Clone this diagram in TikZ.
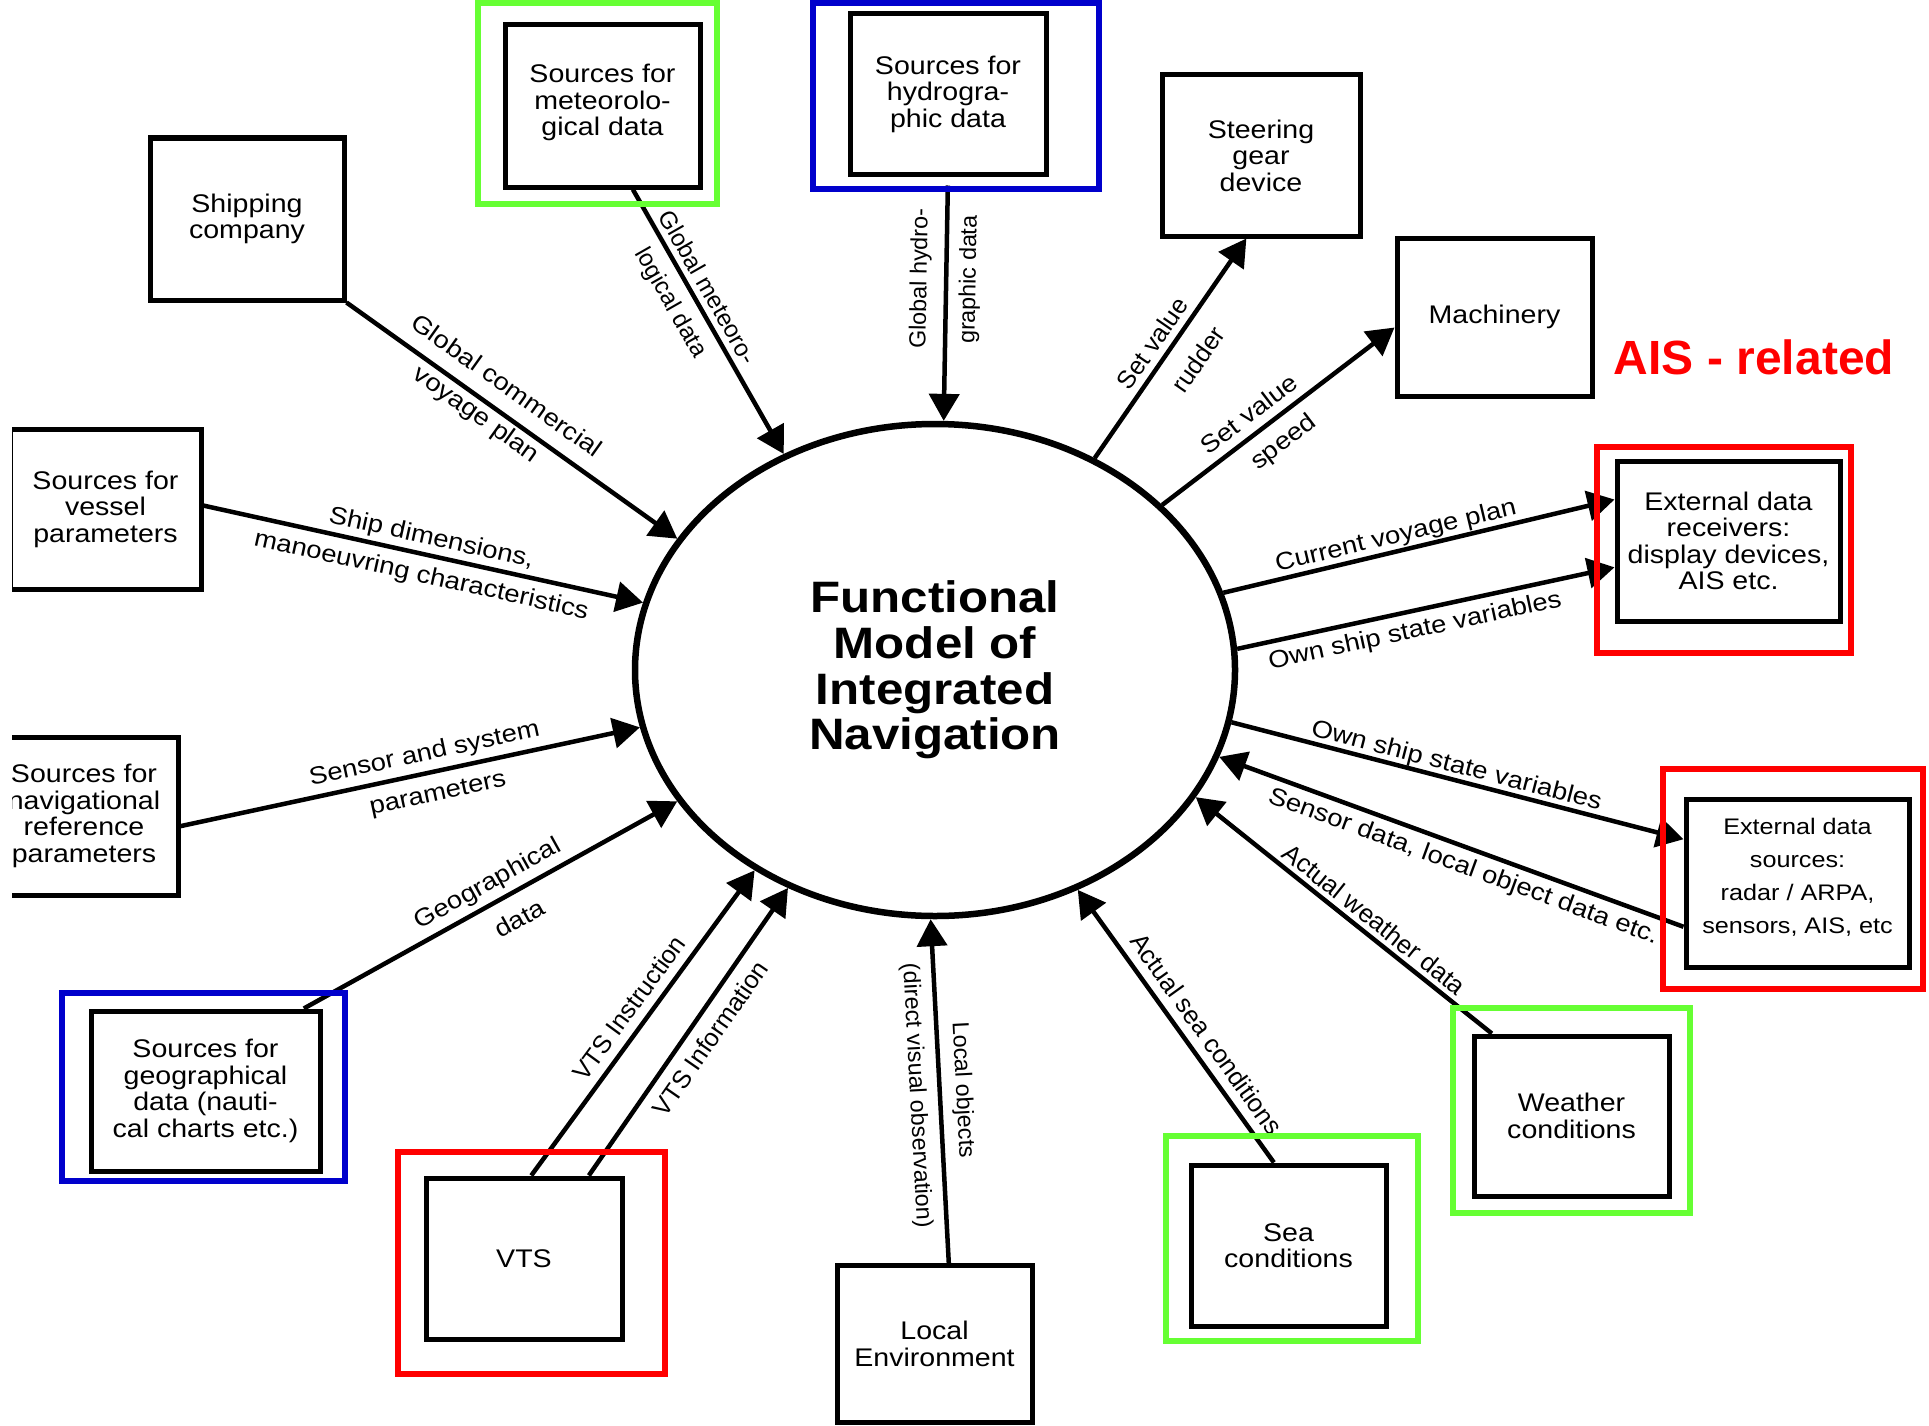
\documentclass[tikz,border=0pt]{standalone}
\usepackage{fontspec}
\setmainfont{Liberation Sans}[FakeStretch=1.12]
\newfontfamily\aisfont{Liberation Sans}
\newfontfamily\labfont{Liberation Sans}
\usetikzlibrary{arrows.meta,shapes.geometric}
\definecolor{gfr}{RGB}{102,255,51}
\definecolor{bfr}{RGB}{0,0,204}
\definecolor{rfr}{RGB}{255,0,0}
\tikzset{
  box/.style={draw, line width=5pt, inner sep=0pt, align=center, font=\fontsize{25.5}{26.5}\selectfont},
  arr/.style={line width=4.5pt, -{Triangle[length=27pt,width=30pt]}},
  arrR/.style={line width=4.5pt, {Triangle[length=27pt,width=30pt]}-},
  lab/.style={font=\fontsize{24.5}{26}\selectfont, inner sep=0pt, sloped, anchor=center},
  labn/.style={font=\labfont\fontsize{#1}{26}\selectfont, inner sep=0pt, sloped, anchor=center},
  frame/.style={line width=6pt},
}
\begin{document}
\begin{tikzpicture}[x=1pt,y=-1pt]
\useasboundingbox (0,0) rectangle (1929,1426);
\fill[white] (0,0) rectangle (1929,1426);

% central ellipse
\node[ellipse, draw, line width=6.5pt, minimum width=600pt, minimum height=492pt, inner sep=0pt, align=center,
      font=\bfseries\fontsize{44}{45.7}\selectfont] (fm) at (935,670) {Functional\\Model of\\Integrated\\Navigation};

% boxes
\node[box, minimum width=195pt, minimum height=162pt] (meteor) at (602.5,106)
  {\raisebox{2pt}[\height][\depth]{\begin{tabular}{@{}c@{}}Sources for\\meteorolo-\\gical data\end{tabular}}};
\node[box, minimum width=196pt, minimum height=160pt] (hydro) at (948,94) {Sources for\\hydrogra-\\phic data};
\node[box, minimum width=194pt, minimum height=162pt] (ship) at (247,219) {Shipping\\company};
\node[box, minimum width=198pt, minimum height=161pt] (steer) at (1261,155.5) {Steering\\gear\\device};
\node[box, minimum width=195pt, minimum height=158pt] (mach) at (1494.5,317) {Machinery};
\node[box, minimum width=223pt, minimum height=160pt] (recv) at (1728.5,541) {External data\\receivers:\\display devices,\\AIS etc.};
\node[box, minimum width=223pt, minimum height=168pt, font=\fontsize{22.5}{33}\selectfont] (srcs) at (1797.5,883)
  {\raisebox{6pt}[\height][\depth]{\begin{tabular}{@{}c@{}}External data\\sources:\\radar / ARPA,\\sensors, AIS, etc\end{tabular}}};
\node[box, minimum width=195pt, minimum height=160pt] (wthr) at (1571.5,1116) {Weather\\conditions};
\node[box, minimum width=195pt, minimum height=161pt] (sea) at (1288.5,1245.5) {Sea\\conditions};
\node[box, minimum width=195pt, minimum height=157pt] (locenv) at (934.5,1344) {Local\\Environment};
\node[box, minimum width=196pt, minimum height=161pt] (vts) at (524,1258.5) {VTS};
\node[box, minimum width=229pt, minimum height=160pt] (geo) at (205.5,1091) {Sources for\\geographical\\data (nauti-\\cal charts etc.)};
\begin{scope}
  \clip (12,0) rectangle (1929,1426);
  \node[box, minimum width=191pt, minimum height=160pt] (vessel) at (105.5,509) {Sources for\\vessel\\parameters};
  \node[box, minimum width=188pt, minimum height=158pt] (navref) at (84,816) {Sources for\\navigational\\reference\\parameters};
\end{scope}

% connectors
\draw[arr] (meteor.-70) -- (fm.125.9)
  node[labn=24.1,pos=0.40,yshift=17pt]{Global meteoro-}
  node[labn=24.1,pos=0.385,yshift=-24pt]{logical data};
\draw[arr, shorten <=9pt] (hydro.south) -- (fm.88.8)
  node[labn=23.3,pos=0.42,yshift=25.6pt]{Global hydro-}
  node[labn=23.3,pos=0.42,yshift=-23.4pt]{graphic data};
\draw[arr] (ship.south east) -- (fm.153.2)
  node[lab,pos=0.44,yshift=26pt]{Global commercial}
  node[lab,pos=0.42,yshift=-16.5pt]{voyage plan};
\draw[arr] (vessel.2.4) -- (fm.167.8)
  node[lab,pos=0.51,yshift=16.7pt]{Ship dimensions,}
  node[lab,pos=0.506,yshift=-21.8pt]{manoeuvring characteristics};
\draw[arr] (navref.-6) -- (fm.191.7)
  node[lab,pos=0.54,yshift=18.9pt]{Sensor and system}
  node[lab,pos=0.55,yshift=-23.5pt]{parameters};
\draw[arr] (geo.40) -- (fm.207)
  node[lab,pos=0.518,yshift=19pt]{Geographical}
  node[lab,pos=0.544,yshift=-25.7pt]{data};
\draw[arr] (vts.85) -- (fm.228)
  node[labn=25.2,pos=0.51,yshift=20.1pt]{VTS Instruction};
\draw[arr] (vts.52) -- (fm.236.6)
  node[labn=25.2,pos=0.52,yshift=-21.6pt]{VTS Information};
\draw[arrR] (fm.269.3) -- (locenv.80)
  node[labn=23.3,allow upside down,pos=0.5,yshift=22.5pt]{Local objects}
  node[labn=23.3,allow upside down,pos=0.51,yshift=-23.7pt]{(direct visual observation)};
\draw[arr] (sea.100) -- (fm.303.7)
  node[labn=25.5,pos=0.427,yshift=20.5pt]{Actual sea conditions};
\draw[arr] (wthr.134) -- (fm.334.9)
  node[labn=25.5,pos=0.43,yshift=16.2pt]{Actual weather data};
\draw[arr] (srcs.201.5) -- (fm.343.6)
  node[lab,pos=0.46,yshift=-19.7pt]{Sensor data, local object data etc.};
\draw[arr] (fm.350.5) -- (srcs.159)
  node[lab,pos=0.49,yshift=13.5pt]{Own ship state variables};
\draw[arr] (fm.4.7) -- (recv.193)
  node[lab,pos=0.46,yshift=-20.6pt]{Own ship state variables};
\draw[arr] (fm.15.1) -- (recv.160)
  node[lab,pos=0.45,yshift=14.6pt]{Current voyage plan};
\draw[arr] (fm.36.7) -- (mach.186)
  node[lab,pos=0.425,yshift=19.9pt]{Set value}
  node[lab,pos=0.46,yshift=-24.4pt]{speed};
\draw[arr] (fm.53.8) -- (steer.260)
  node[labn=25.2,pos=0.477,yshift=17.9pt]{Set value}
  node[labn=25.2,pos=0.524,yshift=-28.7pt]{rudder};

% coloured frames
\draw[gfr, frame] (478,3) rectangle (717,204);
\draw[bfr, frame] (813,3) rectangle (1099,189);
\draw[rfr, frame] (1597,447) rectangle (1851,653);
\draw[rfr, frame] (1663,769) rectangle (1923,989);
\draw[gfr, frame] (1453,1008) rectangle (1690,1213);
\draw[gfr, frame] (1166,1136) rectangle (1418,1341);
\draw[rfr, frame] (398,1152) rectangle (665,1374);
\draw[bfr, frame] (62,993) rectangle (345,1181);

\node[text=rfr, font=\aisfont\bfseries\fontsize{48}{50}\selectfont, inner sep=0pt] (ais) at (1754,357) {AIS - related};
\end{tikzpicture}
\end{document}
